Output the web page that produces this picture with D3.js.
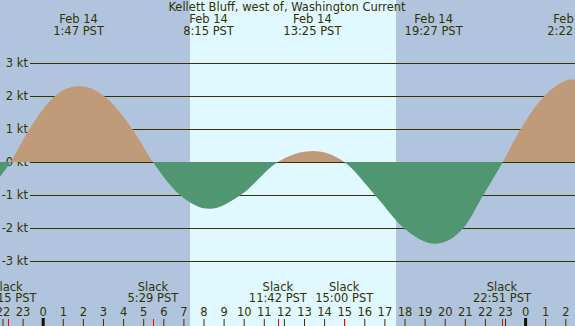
<!DOCTYPE html>
<html>
<head>
<meta charset="utf-8">
<script src="https://cdn.jsdelivr.net/npm/d3@7"></script>
<style>
body { margin: 0; }
svg { display: block; }
text { font-family: "DejaVu Sans", sans-serif; font-size: 11.5px; fill: #333300; }
</style>
</head>
<body>
<div id="chart"></div>
<script>
var title = "Kellett Bluff, west of, Washington Current";

// current speed: hours from Feb 14 00:00 PST, knots (+ flood, - ebb)
var curveHours  = [-5, -2.2, -1.6, -0.66, 0.612, 1.806, 3.05, 4.458, 5.483, 6.83, 8.3, 9.85, 11.7,
                   13.46, 15.0, 16.53, 17.97, 19.52, 20.93, 21.92, 22.89, 23.78, 24.96, 26.37, 28];
var curveSpeeds = [-1.5, -0.5, 0, 1, 2, 2.30, 2, 1, 0, -1, -1.42, -1, 0,
                   0.33, 0, -1, -2, -2.48, -2, -1, 0, 1, 2, 2.5, 2.2];

var maxHours = [1.783, 8.25, 13.417, 19.45, 26.367];
var maxDates = ["Feb 14", "Feb 14", "Feb 14", "Feb 14", "Feb 15"];
var maxTimes = ["1:47 PST", "8:15 PST", "13:25 PST", "19:27 PST", "2:22 PST"];

var slackHours = [-1.75, 5.483, 11.7, 15.0, 22.85];
var slackTimes = ["22:15 PST", "5:29 PST", "11:42 PST", "15:00 PST", "22:51 PST"];

var daylight = [7.33, 17.58];
var speedTicks = [-3, -2, -1, 0, 1, 2, 3];
var hourTicks = d3.range(-2, 27);

var width = 575, height = 326;

var svg = d3.select("#chart").append("svg")
    .attr("width", width)
    .attr("height", height);

var x = d3.scaleLinear().domain([-2.1244, 26.4826]).range([0, width]);
var y = d3.scaleLinear().domain([-3, 3]).range([261, 63]);

// night / day background
svg.append("rect")
    .attr("x", 0).attr("y", 0)
    .attr("width", width).attr("height", height)
    .attr("fill", "#b0c4de");
svg.append("rect")
    .attr("x", x(daylight[0])).attr("y", 0)
    .attr("width", x(daylight[1]) - x(daylight[0])).attr("height", height)
    .attr("fill", "#e0f8ff");

// grid lines
svg.selectAll(".grid")
    .data(speedTicks)
    .enter()
    .append("line")
    .attr("x1", 30).attr("x2", width)
    .attr("y1", d => Math.round(y(d)) + 0.5)
    .attr("y2", d => Math.round(y(d)) + 0.5)
    .attr("stroke", "#333300")
    .attr("stroke-width", 1);

svg.selectAll(".ylab")
    .data(speedTicks)
    .enter()
    .append("text")
    .attr("x", 28)
    .attr("y", d => y(d) + 4)
    .attr("text-anchor", "end")
    .text(d => d + " kt");

// current curve, split into flood and ebb
var points = curveHours.map((h, i) => [h, curveSpeeds[i]]);
var area = d3.area()
    .x(d => x(d[0]))
    .y0(y(0))
    .y1(d => y(d[1]))
    .curve(d3.curveMonotoneX);

var defs = svg.append("defs");
defs.append("clipPath").attr("id", "above")
    .append("rect").attr("x", 0).attr("y", 0).attr("width", width).attr("height", y(0));
defs.append("clipPath").attr("id", "below")
    .append("rect").attr("x", 0).attr("y", y(0)).attr("width", width).attr("height", height - y(0));

svg.append("path")
    .attr("d", area(points))
    .attr("fill", "#bf9b7a")
    .attr("clip-path", "url(#above)");
svg.append("path")
    .attr("d", area(points))
    .attr("fill", "#509671")
    .attr("clip-path", "url(#below)");

// title and max current labels
svg.append("text")
    .attr("x", 287).attr("y", 11)
    .attr("text-anchor", "middle")
    .text(title);

var maxG = svg.selectAll(".maxlab")
    .data(maxHours)
    .enter()
    .append("g")
    .attr("transform", d => `translate(${x(d)},0)`);
maxG.append("text")
    .attr("y", 23).attr("text-anchor", "middle")
    .text((d, i) => maxDates[i]);
maxG.append("text")
    .attr("y", 35).attr("text-anchor", "middle")
    .text((d, i) => maxTimes[i]);

// slack labels
var slackG = svg.selectAll(".slacklab")
    .data(slackHours)
    .enter()
    .append("g")
    .attr("transform", d => `translate(${x(d)},0)`);
slackG.append("text")
    .attr("y", 291).attr("text-anchor", "middle")
    .text("Slack");
slackG.append("text")
    .attr("y", 302).attr("text-anchor", "middle")
    .text((d, i) => slackTimes[i]);

// hour axis along the bottom
var hourAxis = d3.axisTop(x)
    .tickValues(hourTicks)
    .tickSize(7)
    .tickPadding(3)
    .tickFormat(d => ((d % 24) + 24) % 24);

var axisG = svg.append("g")
    .attr("transform", `translate(0, ${height})`)
    .call(hourAxis);
axisG.select(".domain").remove();
axisG.selectAll("text")
    .attr("font-family", null).attr("font-size", null).attr("fill", null);
axisG.selectAll("line").attr("stroke", "#333300");
axisG.selectAll(".tick")
    .filter(d => d % 24 === 0)
    .select("line")
    .attr("stroke", "#111100")
    .attr("stroke-width", 3)
    .attr("y2", -8);

svg.selectAll(".slacktick")
    .data(slackHours)
    .enter()
    .append("line")
    .attr("x1", d => Math.round(x(d)) + 0.5)
    .attr("x2", d => Math.round(x(d)) + 0.5)
    .attr("y1", height - 7).attr("y2", height)
    .attr("stroke", "#ff0000");
</script>
</body>
</html>
